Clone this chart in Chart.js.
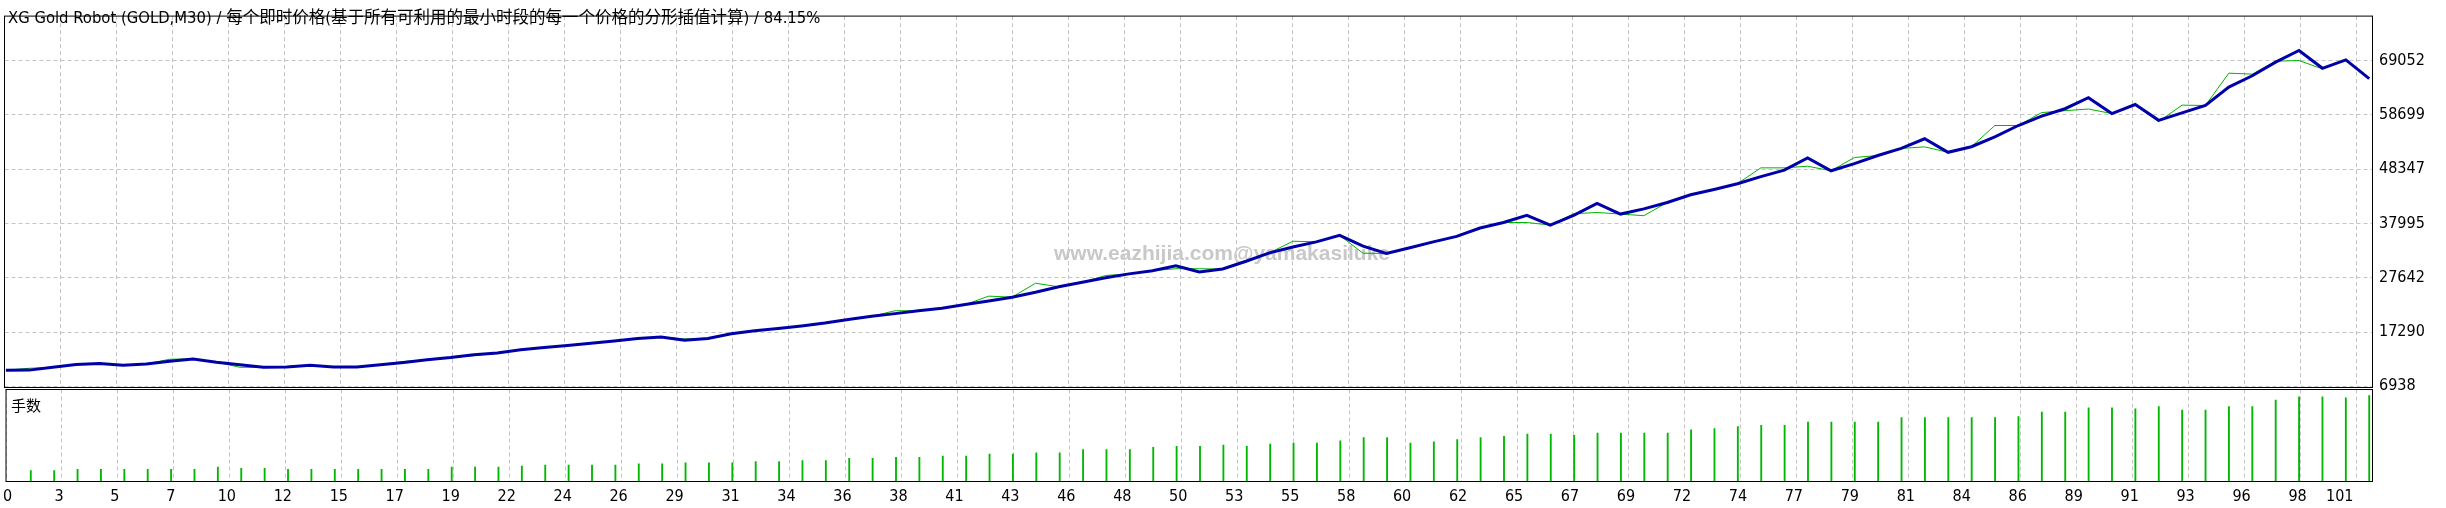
<!DOCTYPE html>
<html>
<head>
<meta charset="utf-8">
<script src="https://cdn.jsdelivr.net/npm/chart.js@4.4.1/dist/chart.umd.min.js"></script>
<style>
  html, body { margin: 0; padding: 0; background: #fff; }
  #wrap { position: relative; width: 2446px; height: 508px; }
  canvas { position: absolute; left: 0; top: 0; }
</style>
</head>
<body>
<div id="wrap">
  <canvas id="mainChart" width="2446" height="508"></canvas>
  <canvas id="lotChart" width="2446" height="508"></canvas>
</div>
<script>
// balance / equity after each trade (index = trade number 0..101)
const balance = [
  10000, 10030, 10570, 11120, 11310, 10940, 11180, 11740, 12170, 11550,
  11060, 10570, 10630, 10940, 10630, 10630, 11060, 11490, 11990, 12420,
  12970, 13300, 13900, 14330, 14700, 15130, 15560, 16050, 16360, 15740,
  16050, 16980, 17530, 17960, 18460, 19010, 19690, 20300, 20800, 21350,
  21840, 22520, 23200, 23940, 24860, 25910, 26770, 27640, 28380, 28990,
  29920, 28750, 29300, 30780, 32380, 33490, 34480, 35710, 33680, 32260,
  33370, 34480, 35520, 37120, 38170, 39530, 37680, 39530, 41810, 39780,
  40770, 41990, 43470, 44470, 45570, 46920, 48160, 50500, 48030, 49390,
  50940, 52290, 54130, 51550, 52620, 54500, 56660, 58450, 59860, 61960,
  58940, 60660, 57650, 59060, 60480, 63990, 66150, 68740, 70960, 67570,
  69170, 65590
];
const equity = [
  10000, 10380, 10570, 11120, 11310, 10940, 11180, 12110, 12170, 11550,
  10570, 10570, 10630, 10940, 10630, 10630, 11060, 11680, 11990, 12420,
  12790, 13300, 13900, 14330, 14700, 15130, 15560, 16050, 16360, 15990,
  16050, 16980, 17530, 17960, 18460, 19010, 19690, 20300, 21350, 21350,
  21840, 22520, 24130, 23940, 26590, 25910, 26770, 28070, 28380, 28990,
  29360, 29360, 29300, 30780, 32380, 34600, 34480, 35710, 32320, 32260,
  33370, 34480, 35520, 37120, 38170, 38170, 37680, 39840, 40080, 39780,
  39470, 41990, 43470, 44470, 45570, 48590, 48590, 48900, 48030, 50560,
  50940, 52290, 52590, 51550, 52620, 56660, 56660, 59120, 59490, 59800,
  58940, 60660, 57400, 60540, 60480, 66640, 66460, 68920, 69050, 67440,
  69170, 65590
];
// lots of trades 1..101
const lots = [
  0.10, 0.10, 0.11, 0.11, 0.11, 0.11, 0.11, 0.11, 0.13, 0.12,
  0.12, 0.11, 0.11, 0.11, 0.11, 0.11, 0.11, 0.11, 0.13, 0.13,
  0.13, 0.14, 0.15, 0.15, 0.15, 0.15, 0.16, 0.16, 0.17, 0.17,
  0.17, 0.18, 0.18, 0.19, 0.19, 0.21, 0.21, 0.22, 0.22, 0.23,
  0.23, 0.25, 0.25, 0.26, 0.26, 0.29, 0.29, 0.29, 0.31, 0.32,
  0.32, 0.33, 0.32, 0.34, 0.35, 0.35, 0.37, 0.40, 0.40, 0.35,
  0.36, 0.38, 0.40, 0.41, 0.43, 0.43, 0.42, 0.44, 0.44, 0.44,
  0.44, 0.47, 0.48, 0.50, 0.51, 0.51, 0.54, 0.54, 0.54, 0.54,
  0.58, 0.58, 0.58, 0.58, 0.58, 0.59, 0.63, 0.63, 0.67, 0.67,
  0.66, 0.68, 0.65, 0.65, 0.68, 0.68, 0.74, 0.77, 0.77, 0.76,
  0.78
];
const xTickLabels = [0, 3, 5, 7, 10, 12, 15, 17, 19, 22, 24, 26, 29, 31, 34, 36, 38, 41, 43, 46, 48,
  50, 53, 55, 58, 60, 62, 65, 67, 69, 72, 74, 77, 79, 81, 84, 86, 89, 91, 93, 96, 98, 101];
const yTickLabels = [6938, 17290, 27642, 37995, 48347, 58699, 69052];

const titleText = 'XG Gold Robot (GOLD,M30) / 每个即时价格(基于所有可利用的最小时段的每一个价格的分形插值计算) / 84.15%';
const lotLabel = '手数';
const watermark = 'www.eazhijia.com@yamakasiluke';

// layout in pixels
const W = 2446, H = 508;
const plotLeft = 4.5, plotRight = 2372.5;
const mainTop = 4.5, mainBottom = 387.5;
const lotTop = 389.5, lotBottom = 481.5;
const gridPx = 56;

const xMin = -0.06, xMax = 101.14;
const gridStep = (xMax - xMin) * gridPx / (plotRight - plotLeft);
const yMin = 6716, yMax = 77519;

const FONT = '"DejaVu Sans Condensed", "Liberation Sans", "Noto Sans CJK SC", sans-serif';
const gridColor = '#c4c4c4';

function gridTicks(axis) {
  axis.ticks = xTickLabels.map((_, i) => ({ value: xMin + i * gridStep }));
}

const framePlugin = {
  id: 'frame',
  beforeDatasetsDraw(chart, args, opts) {
    if (!opts.watermark) return;
    const ctx = chart.ctx;
    ctx.save();
    ctx.font = 'bold 21px "Liberation Sans", sans-serif';
    ctx.fillStyle = '#c8c8c8';
    ctx.textAlign = 'center';
    ctx.textBaseline = 'middle';
    ctx.fillText(opts.watermark, 1222, 254);
    ctx.restore();
  },
  afterDraw(chart, args, opts) {
    const { ctx, chartArea: a } = chart;
    ctx.save();
    ctx.strokeStyle = '#000';
    ctx.lineWidth = 1;
    ctx.strokeRect(a.left, a.top, a.right - a.left, a.bottom - a.top);
    if (opts.label) {
      ctx.fillStyle = '#000';
      ctx.font = opts.labelFont;
      ctx.textAlign = 'left';
      ctx.textBaseline = 'middle';
      ctx.fillText(opts.label, opts.labelX, opts.labelY);
    }
    ctx.restore();
  }
};

new Chart(document.getElementById('mainChart'), {
  type: 'line',
  data: {
    datasets: [
      {
        label: 'balance',
        data: balance.map((v, i) => ({ x: i, y: v })),
        borderColor: '#0000a8',
        borderWidth: 3,
        pointRadius: 0,
        tension: 0
      },
      {
        label: 'equity',
        data: equity.map((v, i) => ({ x: i, y: v })),
        borderColor: '#00b400',
        borderWidth: 1,
        pointRadius: 0,
        tension: 0
      }
    ]
  },
  options: {
    responsive: false,
    animation: false,
    events: [],
    layout: { padding: { left: plotLeft, top: mainTop, right: 0, bottom: H - mainBottom } },
    plugins: {
      legend: { display: false },
      tooltip: { enabled: false },
      frame: {
        watermark: watermark,
        label: titleText,
        labelFont: '16.5px ' + FONT,
        labelX: 8,
        labelY: 19
      }
    },
    scales: {
      x: {
        type: 'linear',
        min: xMin,
        max: xMax,
        afterBuildTicks: gridTicks,
        afterFit(axis) { axis.height = 0; },
        ticks: { display: false },
        grid: { color: gridColor, drawTicks: false },
        border: { display: false, dash: [4, 3] }
      },
      y: {
        position: 'right',
        min: yMin,
        max: yMax,
        afterBuildTicks(axis) { axis.ticks = yTickLabels.map(v => ({ value: v })); },
        afterFit(axis) { axis.width = W - plotRight; },
        ticks: {
          padding: 6.5,
          color: '#000',
          font: { family: FONT, size: 16 },
          callback: v => String(v)
        },
        grid: { color: gridColor, drawTicks: false },
        border: { display: false, dash: [4, 3] }
      }
    }
  },
  plugins: [framePlugin]
});

new Chart(document.getElementById('lotChart'), {
  type: 'bar',
  data: {
    datasets: [{
      label: lotLabel,
      data: lots.map((v, i) => ({ x: i + 1, y: v })),
      backgroundColor: '#00b800',
      borderWidth: 0,
      barThickness: 1.2
    }]
  },
  options: {
    responsive: false,
    animation: false,
    events: [],
    layout: { padding: { left: plotLeft, top: lotTop, right: W - plotRight, bottom: 0 } },
    plugins: {
      legend: { display: false },
      tooltip: { enabled: false },
      frame: {
        label: lotLabel,
        labelFont: '15px "Noto Sans CJK SC", sans-serif',
        labelX: 11,
        labelY: 405
      }
    },
    scales: {
      x: {
        type: 'linear',
        min: xMin,
        max: xMax,
        offset: false,
        afterBuildTicks: gridTicks,
        afterFit(axis) { axis.height = H - lotBottom; },
        ticks: {
          autoSkip: false,
          maxRotation: 0,
          align: 'inner',
          labelOffset: -3,
          padding: 6,
          color: '#000',
          font: { family: FONT, size: 16 },
          callback: (v, i) => String(xTickLabels[i])
        },
        grid: { color: gridColor, drawTicks: false, offset: false },
        border: { display: false, dash: [4, 3] }
      },
      y: {
        display: false,
        min: 0,
        max: 0.836
      }
    }
  },
  plugins: [framePlugin]
});
</script>
</body>
</html>
